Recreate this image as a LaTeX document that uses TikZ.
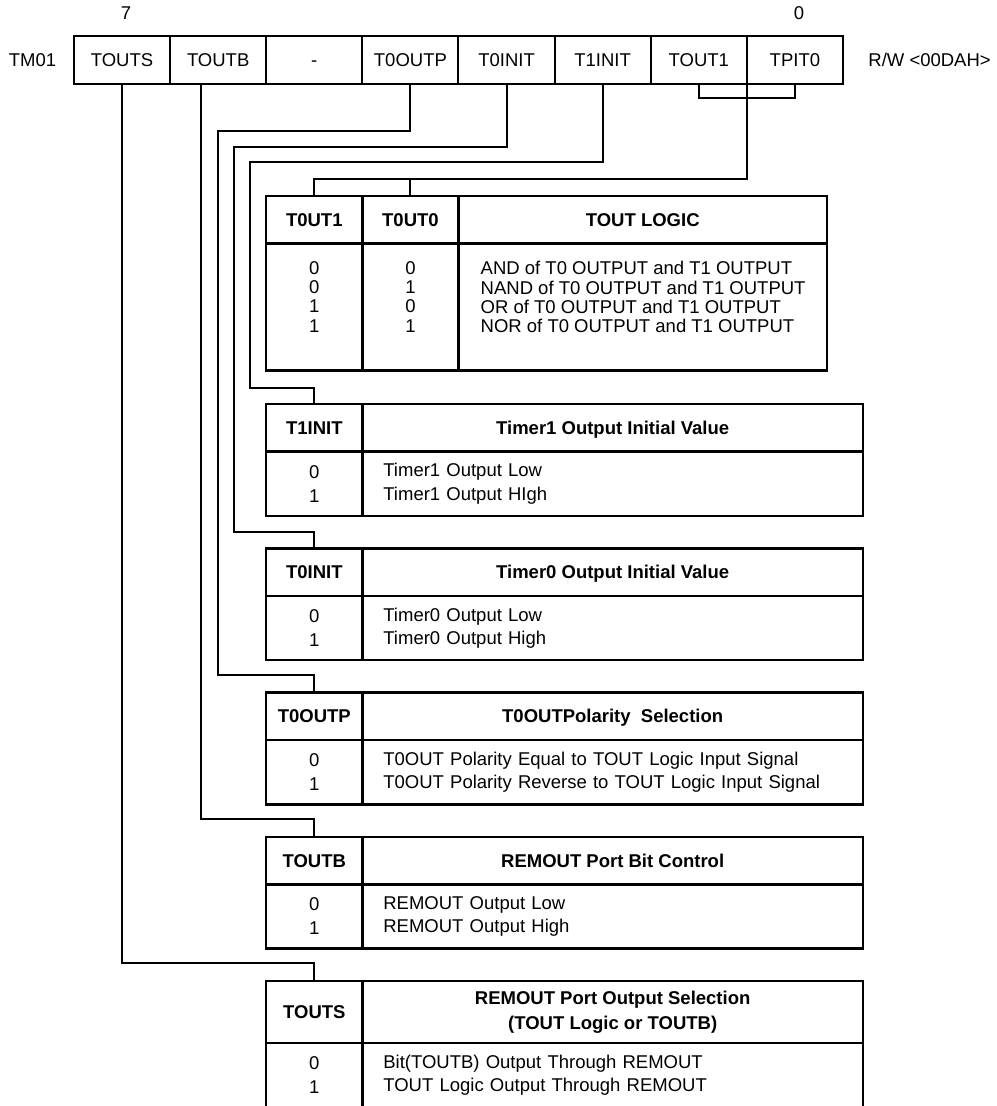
\documentclass[tikz,border=0pt]{standalone}
\usepackage{fontspec}
\setmainfont{Liberation Sans}
\usetikzlibrary{positioning,calc}

\begin{document}
\begin{tikzpicture}[x=0.5pt,y=-0.5pt,
    font=\fontsize{9.25}{12}\selectfont,
    bit/.style={rectangle,draw,line width=1pt,outer sep=0pt,inner sep=0pt,minimum width=48.06pt,minimum height=24pt,text height=6.6pt,text depth=0pt},
    hdr/.style={rectangle,draw,line width=1.2pt,outer sep=0pt,inner sep=0pt,minimum height=23.75pt,align=center,text height=6.6pt,text depth=0pt,font=\fontsize{9.25}{12.5}\selectfont\bfseries},
    val/.style={rectangle,draw,line width=1.2pt,outer sep=0pt,inner sep=0pt,minimum width=48.06pt,minimum height=32.15pt,align=center,font=\fontsize{9.25}{12}\selectfont},
    desc/.style={rectangle,draw,line width=1.2pt,outer sep=0pt,inner xsep=10.5pt,inner ysep=0pt,text width=229.3pt,minimum height=32.15pt,align=left,font=\fontsize{9.25}{11.6}\selectfont},
    rows/.style={inner sep=0pt,font=\fontsize{9.25}{9.6}\selectfont},
    wire/.style={line width=1pt}]

\clip (0,0) rectangle (996,1106);

% Registre TM01
\node[bit] (touts) at (122.06,60) {TOUTS};
\node[bit,right=0pt of touts] (toutb) {TOUTB};
\node[bit,right=0pt of toutb] (none) {-};
\node[bit,right=0pt of none] (toutp) {T0OUTP};
\node[bit,right=0pt of toutp] (tinit0) {T0INIT};
\node[bit,right=0pt of tinit0] (tinit1) {T1INIT};
\node[bit,right=0pt of tinit1] (tout1) {TOUT1};
\node[bit,right=0pt of tout1] (tpit0) {TPIT0};
\node (reg) at (32.5,60) {TM01};
\node (msb) at (126,13) {7};
\node (lsb) at (799,13) {0};
\node[anchor=west,inner sep=0pt] (addr) at (868,60) {R/W <00DAH>};

% Table TOUT LOGIC
\node[hdr,minimum width=48.06pt,anchor=north west] (l1) at (266.25,196) {T0UT1};
\node[hdr,minimum width=48.06pt,right=0pt of l1] (l2) {T0UT0};
\node[hdr,minimum width=184.25pt,right=0pt of l2] (l3) {TOUT LOGIC};
\node[val,below=0pt of l1,minimum height=63.5pt] (lv1) {};
\node[val,below=0pt of l2,minimum height=63.5pt] (lv2) {};
\node[val,below=0pt of l3,minimum width=184.25pt,minimum height=63.5pt] (lv3) {};
\node[rows,align=center,anchor=north] (lr1) at ([yshift=-8.8pt]lv1.north) {0\\0\\1\\1};
\node[rows,align=center,anchor=north] (lr2) at ([yshift=-8.8pt]lv2.north) {0\\1\\0\\1};
\node[rows,align=left,anchor=north west] (lr3) at ([xshift=10.9pt,yshift=-8.8pt]lv3.north west)
  {AND of T0 OUTPUT and T1 OUTPUT\\NAND of T0 OUTPUT and T1 OUTPUT\\OR of T0 OUTPUT and T1 OUTPUT\\NOR of T0 OUTPUT and T1 OUTPUT};

% Table T1INIT
\node[hdr,minimum width=48.06pt,anchor=north west] (i1h) at (266.25,404) {T1INIT};
\node[hdr,minimum width=250.3pt,right=0pt of i1h] (i1t) {Timer1 Output Initial Value};
\node[val,below=0pt of i1h] (i1v) {0\\1};
\node[desc,below=0pt of i1t] (i1d) {Timer1 Output Low\\Timer1 Output HIgh};

% Table T0INIT
\node[hdr,minimum width=48.06pt,anchor=north west] (i0h) at (266.25,548.3) {T0INIT};
\node[hdr,minimum width=250.3pt,right=0pt of i0h] (i0t) {Timer0 Output Initial Value};
\node[val,below=0pt of i0h] (i0v) {0\\1};
\node[desc,below=0pt of i0t] (i0d) {Timer0 Output Low\\Timer0 Output High};

% Table T0OUTP
\node[hdr,minimum width=48.06pt,anchor=north west] (ph) at (266.25,692.5) {T0OUTP};
\node[hdr,minimum width=250.3pt,right=0pt of ph] (pt) {T0OUTPolarity\ \ Selection};
\node[val,below=0pt of ph] (pv) {0\\1};
\node[desc,below=0pt of pt] (pd) {T0OUT Polarity Equal to TOUT Logic Input Signal\\T0OUT Polarity Reverse to TOUT Logic Input Signal};

% Table TOUTB
\node[hdr,minimum width=48.06pt,anchor=north west] (bh) at (266.25,836.8) {TOUTB};
\node[hdr,minimum width=250.3pt,right=0pt of bh] (bt) {REMOUT Port Bit Control};
\node[val,below=0pt of bh] (bv) {0\\1};
\node[desc,below=0pt of bt] (bd) {REMOUT Output Low\\REMOUT Output High};

% Table TOUTS
\node[hdr,minimum width=48.06pt,minimum height=31pt,anchor=north west] (sh) at (266.25,981) {TOUTS};
\node[hdr,minimum width=250.3pt,minimum height=31pt,text height=,text depth=,right=0pt of sh] (st) {REMOUT Port Output Selection\\(TOUT Logic or TOUTB)};
\node[val,below=0pt of sh] (sv) {0\\1};
\node[desc,below=0pt of st] (sd) {Bit(TOUTB) Output Through REMOUT\\TOUT Logic Output Through REMOUT};

% Liaisons
\coordinate (laneP) at (218,131);
\coordinate (lane0) at (233.5,147);
\coordinate (lane1) at (249.5,162.3);

\draw[wire] (tout1.south) -- ++(0,14.3) -| (tpit0.south);
\draw[wire] (tout1.south east) |- ([yshift=8.5pt]l1.north) -- (l1.north);
\draw[wire] ([yshift=8.5pt]l2.north) -- (l2.north);
\draw[wire] (tinit1.south) |- (lane1) |- ([yshift=8.2pt]i1h.north) -- (i1h.north);
\draw[wire] (tinit0.south) |- (lane0) |- ([yshift=8.3pt]i0h.north) -- (i0h.north);
\draw[wire] (toutp.south) |- (laneP) |- ([yshift=8.7pt]ph.north) -- (ph.north);
\draw[wire] ([xshift=-8.6pt]toutb.south) |- ([yshift=8.8pt]bh.north) -- (bh.north);
\draw[wire] (touts.south) |- ([yshift=8.8pt]sh.north) -- (sh.north);

\end{tikzpicture}
\end{document}
